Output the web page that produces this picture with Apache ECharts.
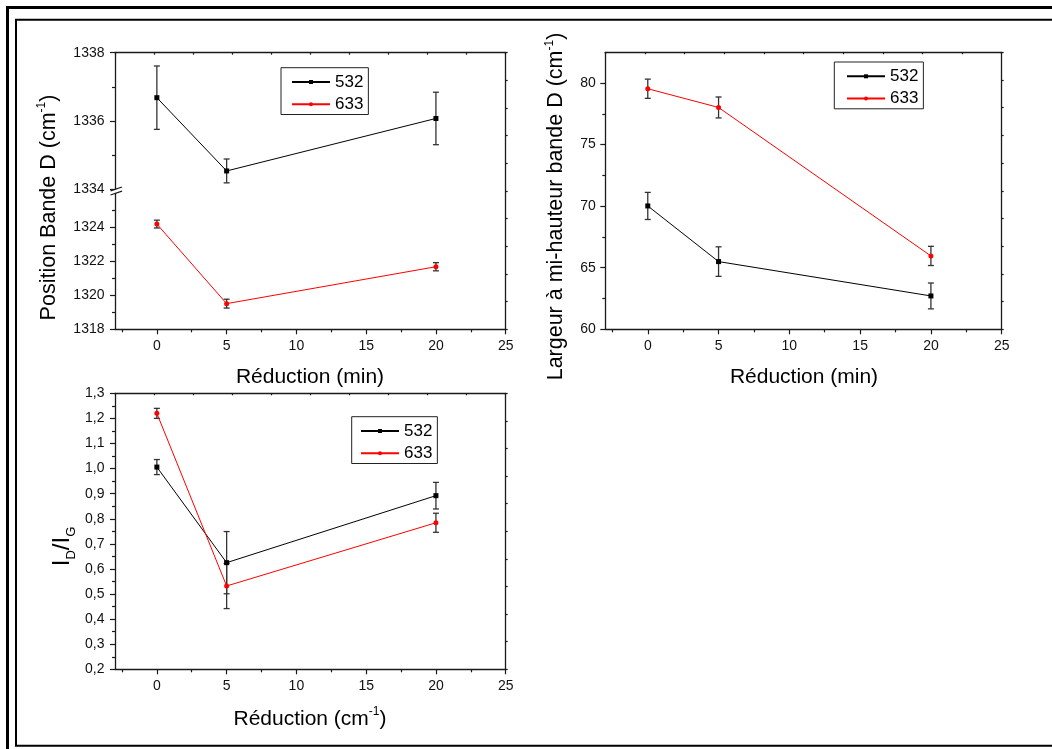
<!DOCTYPE html>
<html><head><meta charset="utf-8">
<script src="https://cdn.jsdelivr.net/npm/echarts@6/dist/echarts.min.js"></script>
<style>html,body{margin:0;padding:0;background:#fff}#c{width:1052px;height:749px}</style>
</head><body><div id="c"></div>
<script>
// ---- data ----
const reductionX = [0, 5, 20];
const posD532 = [1336.68, 1334.53, 1336.07];
const posD532Err = [0.93, 0.35, 0.77];
const posD633 = [1324.19, 1319.51, 1321.68];
const posD633Err = [0.23, 0.26, 0.24];
const fwhm532 = [70.02, 65.50, 62.71];
const fwhm532Err = [1.10, 1.20, 1.05];
const fwhm633 = [79.54, 78.02, 65.96];
const fwhm633Err = [0.78, 0.85, 0.78];
const idig532 = [1.006, 0.625, 0.892];
const idig532Err = [0.030, 0.124, 0.053];
const idig633 = [1.220, 0.532, 0.784];
const idig633Err = [0.020, 0.090, 0.038];
const xMajorTicks = [0, 5, 10, 15, 20, 25];
const xMinorTicks = [-2.5, 2.5, 7.5, 12.5, 17.5, 22.5];
const posLowTicks = [1318, 1320, 1322, 1324];
const fwhmTicks = [60, 65, 70, 75, 80];
const fwhmMinorTicks = [62.5, 67.5, 72.5, 77.5];
const legendNames = ['532', '633'];

const FF = '"Liberation Sans", Arial, sans-serif';
const AX = '#1a1a1a';
const axLine = {show: true, onZero: false, lineStyle: {color: AX, width: 1.3}};
const tickStyle = {color: AX, width: 1.2};
const lblStyle = {fontSize: 14, color: '#111', fontFamily: FF};
const plain = v => String(v);

function mainX(g) {
  return {type: 'value', gridIndex: g, position: 'bottom', min: -3, max: 25,
    axisLine: axLine, splitLine: {show: false},
    axisTick: {show: true, length: 5, customValues: xMajorTicks, lineStyle: tickStyle},
    axisLabel: Object.assign({customValues: xMajorTicks, margin: 10, formatter: plain}, lblStyle)};
}
function minorX(g) {
  return {type: 'value', gridIndex: g, position: 'bottom', min: -3, max: 25,
    axisLine: {show: false, onZero: false}, splitLine: {show: false}, axisLabel: {show: false},
    axisTick: {show: true, length: 3, customValues: xMinorTicks, lineStyle: tickStyle}};
}
function hiddenX(g) {
  return {type: 'value', gridIndex: g, min: -3, max: 25, show: false};
}
function frameX(g) {
  return {type: 'value', gridIndex: g, position: 'top', min: 0, max: 10, interval: 1,
    axisLine: axLine, splitLine: {show: false}, axisLabel: {show: false},
    axisTick: {show: true, inside: true, length: 2, lineStyle: tickStyle}};
}
function frameY(g) {
  return {type: 'value', gridIndex: g, position: 'right', min: 0, max: 10, interval: 1,
    axisLine: axLine, splitLine: {show: false}, axisLabel: {show: false},
    axisTick: {show: true, length: 2, lineStyle: tickStyle}};
}

function errItem(params, api) {
  const x = api.value(0), y = api.value(1), e = api.value(2);
  const t = api.coord([x, y + e]), b = api.coord([x, y - e]);
  const w = 3, st = {stroke: '#333', lineWidth: 1.3};
  return {type: 'group', children: [
    {type: 'line', shape: {x1: t[0], y1: t[1], x2: b[0], y2: b[1]}, style: st},
    {type: 'line', shape: {x1: t[0] - w, y1: t[1], x2: t[0] + w, y2: t[1]}, style: st},
    {type: 'line', shape: {x1: b[0] - w, y1: b[1], x2: b[0] + w, y2: b[1]}, style: st}
  ]};
}
function lineSeries(name, xi, yi, vals) {
  const red = name === '633';
  return {type: 'line', name: name, xAxisIndex: xi, yAxisIndex: yi,
    data: reductionX.map((x, i) => [x, vals[i]]),
    symbol: red ? 'circle' : 'rect', symbolSize: 5, showSymbol: true,
    itemStyle: {color: red ? '#ff0000' : '#000'},
    lineStyle: {color: red ? '#ff0000' : '#000', width: 1},
    z: 3, animation: false};
}
function errSeries(name, xi, yi, vals, errs) {
  return {type: 'custom', name: 'err' + name, xAxisIndex: xi, yAxisIndex: yi,
    data: reductionX.map((x, i) => [x, vals[i], errs[i]]),
    renderItem: errItem, z: 2, silent: true, animation: false, clip: false};
}
function legend(left, top, padding) {
  return {data: legendNames, orient: 'vertical', left: left, top: top, padding: padding,
    itemWidth: 38, itemHeight: 5, itemGap: 5.2, borderColor: '#222', borderWidth: 1,
    backgroundColor: '#fff', selectedMode: false,
    textStyle: {fontSize: 17, color: '#000', fontFamily: FF}};
}
function supRich(fs) {
  return {
    a: {fontSize: fs, lineHeight: 24, verticalAlign: 'bottom', fontFamily: FF, fill: '#000', color: '#000'},
    sup: {fontSize: 12, lineHeight: 12, verticalAlign: 'top', fontFamily: FF, fill: '#000', color: '#000'}
  };
}
function title(x, y, text, rot, rich) {
  const fs = rot ? 21.5 : 21;
  return {type: 'text', x: x, y: y, rotation: rot ? Math.PI / 2 : 0, z: 10,
    style: {text: text, align: 'center', verticalAlign: 'middle', rich: rich || supRich(fs),
      font: fs + 'px ' + FF, fill: '#000'}};
}

const chart = echarts.init(document.getElementById('c'), null, {renderer: 'canvas'});
chart.setOption({
  animation: false,
  backgroundColor: '#fff',
  grid: [
    {left: 115, top: 52.7, width: 390.7, height: 136.3},   // 0 P1 upper
    {left: 115, top: 193.3, width: 390.7, height: 136},    // 1 P1 lower
    {left: 115, top: 52.7, width: 390.7, height: 276.6},   // 2 P1 frame
    {left: 605.3, top: 52.3, width: 396.4, height: 277},   // 3 P2 main
    {left: 605.3, top: 52.3, width: 396.4, height: 277},   // 4 P2 frame
    {left: 115, top: 393.3, width: 390.7, height: 276},    // 5 P3 main
    {left: 115, top: 393.3, width: 390.7, height: 276}     // 6 P3 frame
  ],
  xAxis: [
    hiddenX(0), mainX(1), minorX(1), frameX(2),
    mainX(3), minorX(3), frameX(4),
    mainX(5), minorX(5), frameX(6)
  ],
  yAxis: [
    {type: 'value', gridIndex: 0, position: 'left', min: 1334, max: 1338, interval: 2,
      axisLine: axLine, splitLine: {show: false},
      axisTick: {show: true, length: 5, lineStyle: tickStyle},
      minorTick: {show: true, splitNumber: 2, length: 3, lineStyle: tickStyle},
      axisLabel: Object.assign({margin: 10.5, formatter: plain}, lblStyle)},
    {type: 'value', gridIndex: 1, position: 'left', min: 1318, max: 1326, interval: 2,
      axisLine: axLine, splitLine: {show: false},
      axisTick: {show: true, length: 5, customValues: posLowTicks, lineStyle: tickStyle},
      minorTick: {show: true, splitNumber: 2, length: 3, lineStyle: tickStyle},
      axisLabel: Object.assign({margin: 10.5, customValues: posLowTicks, formatter: plain}, lblStyle)},
    frameY(2),
    {type: 'value', gridIndex: 3, position: 'left', min: 60, max: 82.5, interval: 5,
      axisLine: axLine, splitLine: {show: false},
      axisTick: {show: true, length: 5, customValues: fwhmTicks, lineStyle: tickStyle},
      axisLabel: Object.assign({margin: 9.5, customValues: fwhmTicks, formatter: plain}, lblStyle)},
    {type: 'value', gridIndex: 3, position: 'left', min: 60, max: 82.5,
      axisLine: {show: false, onZero: false}, splitLine: {show: false}, axisLabel: {show: false},
      axisTick: {show: true, length: 3, customValues: fwhmMinorTicks, lineStyle: tickStyle}},
    frameY(4),
    {type: 'value', gridIndex: 5, position: 'left', min: 0.2, max: 1.3, interval: 0.1,
      axisLine: axLine, splitLine: {show: false},
      axisTick: {show: true, length: 5, lineStyle: tickStyle},
      minorTick: {show: true, splitNumber: 2, length: 3, lineStyle: tickStyle},
      axisLabel: Object.assign({margin: 10.5, formatter: v => v.toFixed(1).replace('.', ',')}, lblStyle)},
    frameY(6)
  ],
  legend: [
    legend(281, 67.7, [5.8, 5, 1.8, 10]),
    legend(834.3, 62, [5.8, 5, 1.8, 11.7]),
    legend(351.7, 416.7, [5.8, 5, 1.8, 8.3])
  ],
  series: [
    errSeries('532a', 0, 0, posD532, posD532Err),
    lineSeries('532', 0, 0, posD532),
    errSeries('633a', 1, 1, posD633, posD633Err),
    lineSeries('633', 1, 1, posD633),
    errSeries('532b', 4, 3, fwhm532, fwhm532Err),
    lineSeries('532', 4, 3, fwhm532),
    errSeries('633b', 4, 3, fwhm633, fwhm633Err),
    lineSeries('633', 4, 3, fwhm633),
    errSeries('532c', 7, 6, idig532, idig532Err),
    lineSeries('532', 7, 6, idig532),
    errSeries('633c', 7, 6, idig633, idig633Err),
    lineSeries('633', 7, 6, idig633)
  ],
  graphic: [
    {type: 'rect', shape: {x: 7.5, y: 7.5, width: 1200, height: 900}, style: {fill: 'none', stroke: '#000', lineWidth: 3}, silent: true},
    {type: 'rect', shape: {x: 16, y: 19.8, width: 1200, height: 726}, style: {fill: 'none', stroke: '#000', lineWidth: 2}, silent: true},
    {type: 'line', shape: {x1: 110.5, y1: 190.8, x2: 122, y2: 187}, style: {stroke: AX, lineWidth: 1.3}, silent: true},
    {type: 'line', shape: {x1: 110.5, y1: 195, x2: 122, y2: 191.2}, style: {stroke: AX, lineWidth: 1.3}, silent: true},
    title(47.8, 207.5, '{a|Position Bande D (cm}{sup|-1}{a|)}', true),
    title(310, 375.5, '{a|Réduction (min)}', false),
    title(555.2, 206.5, '{a|Largeur à mi-hauteur bande D (cm}{sup|-1}{a|)}', true),
    title(804, 375.5, '{a|Réduction (min)}', false),
    title(310, 717.5, '{a|Réduction (cm}{sup|-1}{a|)}', false),
    title(64, 546.5, '{m|I}{s|D}{m|/I}{s|G}', true, {
      m: {fontSize: 24, lineHeight: 24, verticalAlign: 'top', fontFamily: FF, fill: '#000', color: '#000'},
      s: {fontSize: 13, lineHeight: 27, verticalAlign: 'bottom', fontFamily: FF, fill: '#000', color: '#000'}
    })
  ]
});
</script>
</body></html>
